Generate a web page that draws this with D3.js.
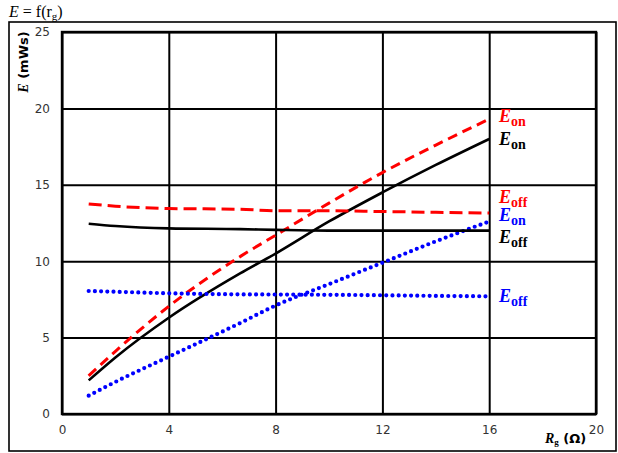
<!DOCTYPE html>
<html>
<head>
    <title>E = f(rg)</title>
    <script src="https://cdn.jsdelivr.net/npm/d3@7"></script>
    <style>
        body { margin: 0; background: #fff; }
    </style>
</head>
<body>
    <svg width="618" height="453" id="mainsvg"></svg>
    <script>
        // data
        const rg = [1, 2, 4, 6.67, 8, 10, 12, 14, 16];
        const eonRed = [2.5, 4.1, 7.05, 10.3, 11.7, 13.8, 15.8, 17.6, 19.3];
        const eonBlack = [2.2, 3.7, 6.3, 9.2, 10.5, 12.6, 14.5, 16.3, 18.0];
        const eonBlue = [1.2, 2.1, 3.75, 5.95, 7.1, 8.5, 9.9, 11.3, 12.6];
        const eoffRed = [13.75, 13.6, 13.45, 13.4, 13.3, 13.3, 13.25, 13.2, 13.15];
        const eoffBlack = [12.45, 12.3, 12.15, 12.1, 12.05, 12.0, 12.0, 12.0, 12.0];
        const eoffBlue = [8.05, 8.0, 7.9, 7.83, 7.82, 7.8, 7.77, 7.73, 7.7];
        const xTicks = [0, 4, 8, 12, 16, 20];
        const yTicks = [0, 5, 10, 15, 20, 25];

        const series = [
            { vals: eonRed, color: '#ff0000', dash: '10,6', width: 3, cap: 'butt', label: 'on', ly: 122 },
            { vals: eonBlack, color: '#000000', dash: null, width: 2.6, cap: 'butt', label: 'on', ly: 145 },
            { vals: eonBlue, color: '#0000ff', dash: '0,6.2', width: 4.2, cap: 'round', label: 'on', ly: 221 },
            { vals: eoffRed, color: '#ff0000', dash: '13,6', width: 3, cap: 'butt', label: 'off', ly: 203 },
            { vals: eoffBlack, color: '#000000', dash: null, width: 2.6, cap: 'butt', label: 'off', ly: 243 },
            { vals: eoffBlue, color: '#0000ff', dash: '0,6.2', width: 4.2, cap: 'round', label: 'off', ly: 302 }
        ];

        const svg = d3.select('svg');
        const margin = { top: 32, left: 62 };
        const innerWidth = 534;
        const innerHeight = 382;
        const mainGroup = svg.append('g')
            .attr('transform', `translate(${margin.left}, ${margin.top})`);

        const xScale = d3.scaleLinear().domain([0, 20]).range([0, innerWidth]);
        const yScale = d3.scaleLinear().domain([0, 25]).range([innerHeight, 0]);

        // outer frame
        svg.append('rect').attr('x', 9).attr('y', 22).attr('width', 607).attr('height', 429)
            .attr('fill', 'none').attr('stroke', '#000').attr('stroke-width', 1.6);

        // title
        const title = svg.append('text').attr('x', 9).attr('y', 17)
            .attr('font-family', 'Liberation Serif, serif').attr('font-size', 16);
        title.append('tspan').attr('font-style', 'italic').text('E');
        title.append('tspan').text(' = f(r');
        title.append('tspan').attr('font-size', 11).attr('dy', 3).text('g');
        title.append('tspan').attr('dy', -3).text(')');

        // axes with grid
        const xAxis = d3.axisBottom(xScale).tickValues(xTicks).tickSize(-innerHeight).tickPadding(11);
        const yAxis = d3.axisLeft(yScale).tickValues(yTicks).tickSize(-innerWidth).tickPadding(12);
        const xAxisGroup = mainGroup.append('g').attr('transform', `translate(0, ${innerHeight})`).call(xAxis);
        const yAxisGroup = mainGroup.append('g').call(yAxis);
        [xAxisGroup, yAxisGroup].forEach(g => {
            g.select('.domain').remove();
            g.selectAll('line').attr('stroke', '#000').attr('stroke-width', 2);
            g.selectAll('text').attr('font-family', 'DejaVu Sans, Verdana, sans-serif')
                .attr('font-size', 12).attr('fill', '#333');
        });

        // plot frame
        mainGroup.append('rect').attr('width', innerWidth).attr('height', innerHeight)
            .attr('fill', 'none').attr('stroke', '#000').attr('stroke-width', 2.4);

        // curves
        const line = d3.line()
            .x((d, i) => xScale(rg[i]))
            .y(d => yScale(d))
            .curve(d3.curveMonotoneX);
        series.forEach(s => {
            mainGroup.append('path').attr('d', line(s.vals))
                .attr('fill', 'none').attr('stroke', s.color)
                .attr('stroke-width', s.width)
                .attr('stroke-linecap', s.cap)
                .attr('stroke-dasharray', s.dash);
        });

        // series labels
        series.forEach(s => {
            const t = svg.append('text').attr('x', 499).attr('y', s.ly)
                .attr('fill', s.color).attr('font-family', 'Liberation Serif, serif')
                .attr('font-weight', 'bold').attr('font-size', 18);
            t.append('tspan').attr('font-style', 'italic').text('E');
            t.append('tspan').attr('font-size', 14).attr('dy', 4).text(s.label);
        });

        // y axis label
        const yLab = svg.append('text')
            .attr('transform', 'translate(28, 62) rotate(-90)')
            .attr('text-anchor', 'middle').attr('font-weight', 'bold').attr('font-size', 13);
        yLab.append('tspan').attr('font-family', 'Liberation Serif, serif').attr('font-style', 'italic').attr('font-size', 14).text('E');
        yLab.append('tspan').attr('font-family', 'DejaVu Sans, Verdana, sans-serif').text(' (mWs)');

        // x axis label
        const xLab = svg.append('text').attr('x', 545).attr('y', 443)
            .attr('font-weight', 'bold').attr('font-size', 13);
        xLab.append('tspan').attr('font-family', 'Liberation Serif, serif').attr('font-style', 'italic').attr('font-size', 14).text('R');
        xLab.append('tspan').attr('font-family', 'Liberation Serif, serif').attr('font-size', 9).attr('dy', 2).text('g');
        xLab.append('tspan').attr('font-family', 'DejaVu Sans, Verdana, sans-serif').attr('dy', -2).text(' (Ω)');
    </script>
</body>
</html>
